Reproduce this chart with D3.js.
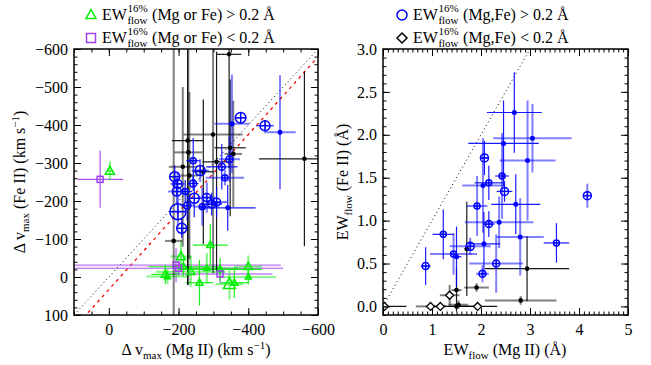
<!DOCTYPE html>
<html>
<head>
<meta charset="utf-8">
<script src="https://cdn.jsdelivr.net/npm/d3@7"></script>
<style>
body { margin: 0; background: #fff; }
text { font-family: "Liberation Serif", "Times New Roman", serif; }
</style>
</head>
<body>
<div id="chart"></div>
<script>
// ---- left panel: delta v_max (km/s) ----
// black points
const blkMg = [-345, -299, -226, -228, -348, -357, -561, -212, -271, -231, -309, -186];
const blkFe = [-586, -375, -359, -328, -340, -324, -311, -290, -277, -267, -303, -95];
const blkMgErr = [35, 85, 45, 40, 45, 25, 130, 40, 30, 25, 40, 25];
const blkFeErr = [300, 365, 380, 350, 180, 140, 230, 210, 190, 220, 290, 800];

// blue circles: EW(Mg,Fe) > 0.2
const bluMg = [-378, -353, -448, -491, -242, -346, -324, -262, -189, -197, -242, -195, -219, -333, -245, -281, -309, -268, -295, -225, -341, -198, -209];
const bluFe = [-419, -403, -398, -381, -306, -310, -290, -280, -264, -245, -246, -225, -225, -261, -207, -209, -197, -185, -192, -188, -182, -172, -128];
const bluMgErr = [15, 50, 25, 45, 20, 30, 45, 25, 15, 20, 15, 25, 20, 55, 20, 25, 30, 25, 30, 20, 80, 20, 15];
const bluFeErr = [15, 130, 15, 150, 60, 60, 60, 30, 30, 30, 20, 35, 30, 20, 50, 40, 40, 50, 30, 40, 60, 40, 25];
const bluEW = [2.53, 1.11, 2.36, 1.0, 1.27, 1.55, 1.55, 2.36, 2.36, 2.09, 1.55, 2.09, 1.27, 1.27, 2.36, 1.82, 1.82, 1.27, 1.82, 1.55, 1.0, 4.0, 2.36];

// green triangles: EW (Mg or Fe) > 0.2
const grnMg = [-291, -207, -162, -168, -214, -235, -260, -281, -319, -346, -360, -400, -400, -3];
const grnFe = [-84, -54, -7, -1, -27, -14, 15, -23, -20, 19, 15, -27, 0, -279];
const grnMgErr = [50, 30, 40, 60, 100, 100, 40, 90, 120, 40, 40, 40, 80, 8];
const grnFeErr = [55, 40, 25, 20, 25, 40, 60, 40, 30, 40, 40, 30, 20, 25];
const grnEW = [1.55, 2.09, 1.82, 1.27, 1.55, 1.82, 1.55, 1.27, 1.55, 2.91, 1.55, 1.82, 1.27, 2.09];

// purple squares: EW (Mg or Fe) < 0.2
const purMg = [25, -193, -200, -319];
const purFe = [-257, -31, -23, -8];
const purMgErr = [65, 300, 300, 150];
const purFeErr = [75, 45, 20, 25];

// red dashed fit: Fe = a + b * Mg
const fitCoef = [33, 1.02];

// ---- right panel: EW_flow (A) ----
const rBluMg = [2.68, 3.05, 2.46, 2.95, 2.07, 2.43, 2.16, 2.04, 2.48, 1.92, 2.71, 4.17, 2.16, 2.37, 1.23, 2.80, 2.06, 1.78, 3.54, 1.44, 1.50, 2.31, 0.87, 2.03];
const rBluFe = [2.26, 1.96, 1.90, 1.70, 1.73, 1.52, 1.44, 1.41, 1.34, 1.17, 1.19, 1.29, 0.96, 0.98, 0.84, 0.81, 0.73, 0.70, 0.74, 0.61, 0.58, 0.50, 0.47, 0.38];
const rBluMgErr = [0.56, 0.8, 0.72, 0.57, 0.07, 0.14, 0.29, 0.42, 0.16, 0.21, 0.5, 0.07, 0.12, 0.7, 0.22, 0.48, 0.33, 0.42, 0.26, 0.48, 0.1, 0.55, 0.1, 0.13];
const rBluFeErr = [0.47, 0.4, 0.5, 0.7, 0.2, 0.5, 0.2, 0.55, 0.12, 0.35, 0.35, 0.14, 0.15, 0.3, 0.29, 0.45, 0.37, 0.1, 0.23, 0.24, 0.35, 0.34, 0.22, 0.1];
const rBluW = [1.0, 1.0, 1.0, 1.0, 1.82, 1.27, 1.27, 1.0, 1.82, 1.27, 1.0, 1.82, 1.55, 1.0, 1.27, 1.0, 1.0, 1.82, 1.27, 1.27, 1.0, 1.55, 1.55, 1.55];

// diamonds: EW (Mg,Fe) < 0.2
const diaMg = [0.03, 0.97, 1.17, 1.36, 1.93];
const diaFe = [0, 0, 0, 0.13, 0];
const diaMgErr = [0.45, 0.3, 0.3, 0.2, 0.4];
const diaFeErr = [0, 0, 0, 0.12, 0];

// black dots
const rBlkMg = [1.50, 1.54, 1.50, 1.91, 2.94, 2.81, 1.71];
const rBlkFe = [0.19, 0.02, 0, 0.22, 0.44, 0.07, 0.67];
const rBlkMgErr = [0.1, 0.2, 0.35, 0.25, 0.86, 0.73, 0.05];
const rBlkFeErr = [0.25, 0.05, 0, 0.05, 0.38, 0.05, 0.55];

// ticks
const leftXTicks = [0, -200, -400, -600];
const leftYTicks = [-600, -500, -400, -300, -200, -100, 0, 100];
const rightXTicks = [0, 1, 2, 3, 4, 5];
const rightYTicks = [0, 0.5, 1.0, 1.5, 2.0, 2.5, 3.0];

const SERIF = '"Liberation Serif", "Times New Roman", serif';
const W = 651, H = 365;
const svg = d3.select("#chart").append("svg")
    .attr("width", W).attr("height", H);

const xL = d3.scaleLinear().domain([100, -600]).range([74, 318]);
const yL = d3.scaleLinear().domain([-600, 100]).range([49, 315]);
const xR = d3.scaleLinear().domain([0, 5]).range([383, 628]);
const yR = d3.scaleLinear().domain([-0.1, 3.0]).range([315, 49]);

// marker size from EW
const rSize = d3.scaleLinear().domain([1, 4]).range([2.5, 8]);

const BLUE = "#0000ff", GREEN = "#00ee00", PURPLE = "#a040f0";

function clipFor(id, x, y) {
    svg.append("clipPath").attr("id", id).append("rect")
        .attr("x", x.range()[0]).attr("y", d3.min(y.range()))
        .attr("width", x.range()[1] - x.range()[0])
        .attr("height", Math.abs(y.range()[1] - y.range()[0]));
}
clipFor("clipL", xL, yL);
clipFor("clipR", xR, yR);

const gL = svg.append("g").attr("clip-path", "url(#clipL)");
const gR = svg.append("g").attr("clip-path", "url(#clipR)");

// error bars, alternating solid thin / light thick like the original
function errorBars(g, x, y, xs, ys, xe, ye, color) {
    xs.forEach((v, i) => {
        const light = i % 2 == 1;
        const st = sel => sel.attr("stroke", color)
            .attr("stroke-width", light ? 2 : 1.2)
            .attr("stroke-opacity", light ? 0.5 : 0.9);
        if (xe[i] > 0) {
            g.append("line").attr("x1", x(v - xe[i])).attr("x2", x(v + xe[i]))
                .attr("y1", y(ys[i])).attr("y2", y(ys[i])).call(st);
        }
        if (ye[i] > 0) {
            g.append("line").attr("x1", x(v)).attr("x2", x(v))
                .attr("y1", y(ys[i] - ye[i])).attr("y2", y(ys[i] + ye[i])).call(st);
        }
    });
}

function crossCircles(g, x, y, xs, ys, sizes, color) {
    xs.forEach((v, i) => {
        const r = rSize(sizes[i]);
        const cx = x(v), cy = y(ys[i]);
        if (r <= 2.8) {
            g.append("circle").attr("cx", cx).attr("cy", cy).attr("r", r)
                .attr("fill", color);
        } else {
            g.append("circle").attr("cx", cx).attr("cy", cy).attr("r", r)
                .attr("fill", "none").attr("stroke", color).attr("stroke-width", 1.5);
            g.append("path").attr("d", `M${cx - r},${cy}H${cx + r}M${cx},${cy - r}V${cy + r}`)
                .attr("stroke", color).attr("stroke-width", 1.2);
        }
    });
}

function dots(g, x, y, xs, ys, color) {
    g.selectAll(null).data(xs).enter().append("circle")
        .attr("cx", d => x(d)).attr("cy", (d, i) => y(ys[i])).attr("r", 2.3)
        .attr("fill", color);
}

function triPath(cx, cy, r) {
    return `M${cx},${cy - r * 1.1}L${cx + r},${cy + r * 0.7}L${cx - r},${cy + r * 0.7}Z`;
}
function diaPath(cx, cy, r) {
    return `M${cx},${cy - r}L${cx + r},${cy}L${cx},${cy + r}L${cx - r},${cy}Z`;
}

// ---- left panel marks ----
// 1:1 line
gL.append("line")
    .attr("x1", xL(100)).attr("y1", yL(100)).attr("x2", xL(-600)).attr("y2", yL(-600))
    .attr("stroke", "#000").attr("stroke-width", 1).attr("stroke-dasharray", "1,3");
// fit line
gL.append("line")
    .attr("x1", xL(100)).attr("y1", yL(fitCoef[0] + fitCoef[1] * 100))
    .attr("x2", xL(-600)).attr("y2", yL(fitCoef[0] + fitCoef[1] * -600))
    .attr("stroke", "red").attr("stroke-width", 1.3).attr("stroke-dasharray", "3,4");

errorBars(gL, xL, yL, purMg, purFe, purMgErr, purFeErr, PURPLE);
errorBars(gL, xL, yL, grnMg, grnFe, grnMgErr, grnFeErr, GREEN);
errorBars(gL, xL, yL, blkMg, blkFe, blkMgErr, blkFeErr, "#000");
errorBars(gL, xL, yL, bluMg, bluFe, bluMgErr, bluFeErr, BLUE);

dots(gL, xL, yL, blkMg, blkFe, "#000");
crossCircles(gL, xL, yL, bluMg, bluFe, bluEW, BLUE);

grnMg.forEach((v, i) => {
    gL.append("path").attr("d", triPath(xL(v), yL(grnFe[i]), rSize(grnEW[i])))
        .attr("fill", "none").attr("stroke", GREEN).attr("stroke-width", 1.5);
});
purMg.forEach((v, i) => {
    gL.append("rect").attr("x", xL(v) - 3).attr("y", yL(purFe[i]) - 3)
        .attr("width", 6).attr("height", 6)
        .attr("fill", "none").attr("stroke", PURPLE).attr("stroke-width", 1.5);
});

// ---- right panel marks ----
gR.append("line")
    .attr("x1", xR(0)).attr("y1", yR(0)).attr("x2", xR(3.0)).attr("y2", yR(3.0))
    .attr("stroke", "#000").attr("stroke-width", 1).attr("stroke-dasharray", "1,3");

errorBars(gR, xR, yR, diaMg, diaFe, diaMgErr, diaFeErr, "#000");
errorBars(gR, xR, yR, rBlkMg, rBlkFe, rBlkMgErr, rBlkFeErr, "#000");
errorBars(gR, xR, yR, rBluMg, rBluFe, rBluMgErr, rBluFeErr, BLUE);

dots(gR, xR, yR, rBlkMg, rBlkFe, "#000");
crossCircles(gR, xR, yR, rBluMg, rBluFe, rBluW, BLUE);
diaMg.forEach((v, i) => {
    gR.append("path").attr("d", diaPath(xR(v), yR(diaFe[i]), 4))
        .attr("fill", "#fff").attr("stroke", "#000").attr("stroke-width", 1.3);
});

// ---- axes ----
function frame(x, y, xTicks, yTicks, xMinorStep, yMinorStep, xFmt, yFmt) {
    const [x0, x1] = x.range();
    const yTop = d3.min(y.range()), yBot = d3.max(y.range());
    const xd = d3.extent(x.domain()), yd = d3.extent(y.domain());
    const xMinor = d3.range(Math.ceil(xd[0] / xMinorStep) * xMinorStep, xd[1] + 1e-9, xMinorStep);
    const yMinor = d3.range(Math.ceil(yd[0] / yMinorStep - 1e-9) * yMinorStep, yd[1] + 1e-9, yMinorStep);

    const axes = [
        [d3.axisBottom, x, `translate(0,${yBot})`, xTicks, xMinor, xFmt, 9],
        [d3.axisTop, x, `translate(0,${yTop})`, xTicks, xMinor, "", 6],
        [d3.axisLeft, y, `translate(${x0},0)`, yTicks, yMinor, yFmt, 6],
        [d3.axisRight, y, `translate(${x1},0)`, yTicks, yMinor, "", 6]
    ];
    axes.forEach(([axisFn, sc, tr, major, minor, fmt, pad]) => {
        // minor ticks
        svg.append("g").attr("transform", tr)
            .call(axisFn(sc).tickValues(minor).tickSize(-3.5).tickSizeOuter(0).tickFormat(""))
            .call(g => g.select(".domain").remove());
        // major ticks + labels
        svg.append("g").attr("transform", tr)
            .attr("font-family", SERIF)
            .call(axisFn(sc).tickValues(major).tickSize(-7).tickSizeOuter(0)
                .tickPadding(pad).tickFormat(fmt))
            .attr("font-family", SERIF)
            .call(g => g.select(".domain").remove())
            .call(g => g.selectAll("text").attr("font-size", 16).attr("fill", "#000")
                .style("font-family", SERIF));
    });
    svg.selectAll(".tick line").attr("stroke", "#000").attr("stroke-width", 1);
    svg.append("rect").attr("x", x0).attr("y", yTop)
        .attr("width", x1 - x0).attr("height", yBot - yTop)
        .attr("fill", "none").attr("stroke", "#000").attr("stroke-width", 1.5);
}

frame(xL, yL, leftXTicks, leftYTicks, 50, 20, d3.format("d"), d3.format("d"));
frame(xR, yR, rightXTicks, rightYTicks, 0.1, 0.1, d3.format("d"), d3.format(".1f"));

// ---- axis titles ----
function title(x, y, rot, parts) {
    const t = svg.append("text").attr("font-size", 16).attr("fill", "#000")
        .attr("text-anchor", "middle")
        .attr("transform", `translate(${x},${y}) rotate(${rot})`);
    parts.forEach(([s, kind]) => {
        const sp = t.append("tspan").text(s);
        if (kind == "sub") sp.attr("font-size", 11).attr("dy", 4);
        else if (kind == "sup") sp.attr("font-size", 11).attr("dy", -6);
        else if (kind == "back-sub") sp.attr("dy", -4);
        else if (kind == "back-sup") sp.attr("dy", 6);
    });
}
title(196, 355, 0, [["\u0394 v"], ["max", "sub"], [" (Mg II) (km s", "back-sub"], ["\u22121", "sup"], [")", "back-sup"]]);
title(25, 182, -90, [["\u0394 v"], ["max", "sub"], [" (Fe II) (km s", "back-sub"], ["\u22121", "sup"], [")", "back-sup"]]);
title(505, 355, 0, [["EW"], ["flow", "sub"], [" (Mg II) (\u00c5)", "back-sub"]]);
title(348, 182, -90, [["EW"], ["flow", "sub"], [" (Fe II) (\u00c5)", "back-sub"]]);

// ---- legends ----
function legendRow(x, y, rest, marker) {
    const ew = svg.append("text").attr("x", x).attr("y", y)
        .attr("font-size", 16).text("EW");
    const w = ew.node().getComputedTextLength();
    const sup = svg.append("text").attr("x", x + w + 0.5).attr("y", y - 8)
        .attr("font-size", 11).text("16%");
    const sub = svg.append("text").attr("x", x + w + 0.5).attr("y", y + 4)
        .attr("font-size", 11).text("flow");
    const w2 = Math.max(sup.node().getComputedTextLength(), sub.node().getComputedTextLength());
    svg.append("text").attr("x", x + w + w2 + 5).attr("y", y)
        .attr("font-size", 16).text(rest);
    marker(x - 11, y - 5);
}

legendRow(102, 20, "(Mg or Fe) > 0.2 \u00c5", (cx, cy) => {
    svg.append("path").attr("d", triPath(cx, cy, 5))
        .attr("fill", "none").attr("stroke", GREEN).attr("stroke-width", 1.5);
});
legendRow(102, 43, "(Mg or Fe) < 0.2 \u00c5", (cx, cy) => {
    svg.append("rect").attr("x", cx - 4.5).attr("y", cy - 4.5).attr("width", 9).attr("height", 9)
        .attr("fill", "none").attr("stroke", PURPLE).attr("stroke-width", 1.5);
});
legendRow(413, 20, "(Mg,Fe) > 0.2 \u00c5", (cx, cy) => {
    svg.append("circle").attr("cx", cx).attr("cy", cy).attr("r", 5)
        .attr("fill", "none").attr("stroke", BLUE).attr("stroke-width", 1.5);
});
legendRow(413, 43, "(Mg,Fe) < 0.2 \u00c5", (cx, cy) => {
    svg.append("path").attr("d", diaPath(cx, cy, 5))
        .attr("fill", "none").attr("stroke", "#000").attr("stroke-width", 1.5);
});
</script>
</body>
</html>
